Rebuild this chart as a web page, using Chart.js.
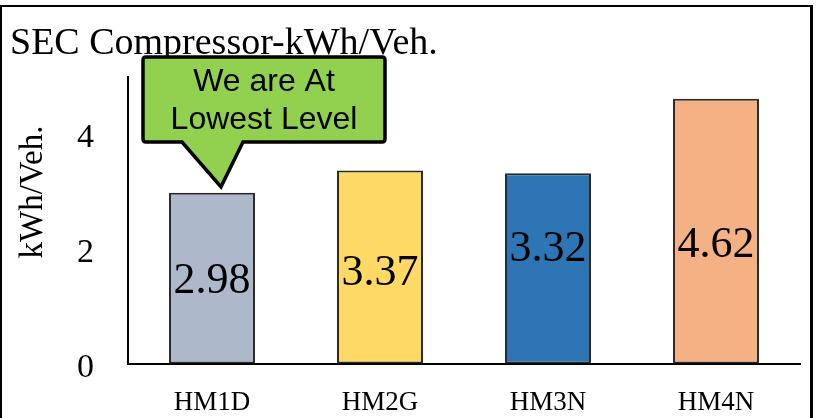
<!DOCTYPE html>
<html>
<head>
<meta charset="utf-8">
<title>SEC Compressor-kWh/Veh.</title>
<script src="https://cdn.jsdelivr.net/npm/chart.js@4"></script>
<style>
  html, body { margin: 0; padding: 0; background: #ffffff; }
  #wrap { width: 820px; height: 418px; }
</style>
</head>
<body>
<div id="wrap"><canvas id="chart" width="820" height="418"></canvas></div>
<script>
// Specific energy consumption of the compressor per vehicle, by plant
const plants = ['HM1D', 'HM2G', 'HM3N', 'HM4N'];
const secValues = [2.98, 3.37, 3.32, 4.62];
const yTicks = [0, 2, 4];
const barColors = ['#ADB9CA', '#FFD966', '#2E75B6', '#F4B183'];

const SERIF = '"Liberation Serif", "DejaVu Serif", serif';
const SANS = '"Liberation Sans", Arial, sans-serif';

// Outer frame around the whole figure
const framePlugin = {
  id: 'frame',
  beforeDraw(chart) {
    const ctx = chart.ctx;
    ctx.save();
    ctx.fillStyle = '#ffffff';
    ctx.fillRect(0, 0, chart.width, chart.height);
    ctx.strokeStyle = '#000000';
    ctx.lineWidth = 2;
    ctx.beginPath();
    ctx.moveTo(1, chart.height + 5);
    ctx.lineTo(1, 6);
    ctx.lineTo(811, 6);
    ctx.stroke();
    ctx.lineWidth = 3;
    ctx.beginPath();
    ctx.moveTo(811.5, 5);
    ctx.lineTo(811.5, chart.height + 5);
    ctx.stroke();
    ctx.restore();
  }
};

// Rotated axis caption on the left
const yCaptionPlugin = {
  id: 'yCaption',
  afterDraw(chart) {
    const ctx = chart.ctx;
    ctx.save();
    ctx.translate(33, 192);
    ctx.rotate(-Math.PI / 2);
    ctx.font = '33px ' + SERIF;
    ctx.fillStyle = '#000000';
    ctx.textAlign = 'center';
    ctx.textBaseline = 'middle';
    ctx.fillText('kWh/Veh.', 0, 0);
    ctx.restore();
  }
};

// Value printed inside each bar
const labelShift = [3, 6, -19, 14];
const valueLabelPlugin = {
  id: 'valueLabels',
  afterDatasetsDraw(chart) {
    const ctx = chart.ctx;
    const meta = chart.getDatasetMeta(0);
    ctx.save();
    ctx.font = '44px ' + SERIF;
    ctx.fillStyle = '#000000';
    ctx.textAlign = 'center';
    ctx.textBaseline = 'middle';
    meta.data.forEach((bar, i) => {
      const mid = (bar.y + bar.base) / 2 + labelShift[i];
      ctx.fillText(secValues[i].toFixed(2), bar.x, mid);
    });
    ctx.restore();
  }
};

// Green speech callout pointing at the first bar
const calloutPlugin = {
  id: 'callout',
  afterDraw(chart) {
    const bar = chart.getDatasetMeta(0).data[0];
    const ctx = chart.ctx;
    const left = bar.x - 69, right = bar.x + 173;
    const top = 57, bottom = 142, r = 3;
    const tipX = bar.x + 9, tipY = bar.y - 6;
    const baseL = bar.x - 30, baseR = bar.x + 31;
    ctx.save();
    ctx.beginPath();
    ctx.moveTo(left + r, top);
    ctx.lineTo(right - r, top);
    ctx.quadraticCurveTo(right, top, right, top + r);
    ctx.lineTo(right, bottom - r);
    ctx.quadraticCurveTo(right, bottom, right - r, bottom);
    ctx.lineTo(baseR, bottom);
    ctx.lineTo(tipX, tipY);
    ctx.lineTo(baseL, bottom);
    ctx.lineTo(left + r, bottom);
    ctx.quadraticCurveTo(left, bottom, left, bottom - r);
    ctx.lineTo(left, top + r);
    ctx.quadraticCurveTo(left, top, left + r, top);
    ctx.closePath();
    ctx.fillStyle = '#92D050';
    ctx.fill();
    ctx.lineWidth = 3.5;
    ctx.lineJoin = 'miter';
    ctx.strokeStyle = '#000000';
    ctx.stroke();
    ctx.fillStyle = '#000000';
    ctx.font = '32px ' + SANS;
    ctx.textAlign = 'center';
    ctx.textBaseline = 'middle';
    const cx = (left + right) / 2;
    ctx.fillText('We are At', cx, 82);
    ctx.fillText('Lowest Level', cx, 120);
    ctx.restore();
  }
};

new Chart(document.getElementById('chart'), {
  type: 'bar',
  data: {
    labels: plants,
    datasets: [{
      data: secValues,
      backgroundColor: barColors,
      borderColor: '#2b2b2b',
      borderWidth: 2,
      borderSkipped: false,
      barPercentage: 0.512,
      categoryPercentage: 1.0
    }]
  },
  options: {
    responsive: false,
    animation: false,
    devicePixelRatio: 1,
    layout: { padding: { left: 10, right: 20, top: 0, bottom: 0 } },
    plugins: {
      legend: { display: false },
      tooltip: { enabled: false },
      title: {
        display: true,
        text: 'SEC Compressor-kWh/Veh.',
        align: 'start',
        color: '#000000',
        font: { family: SERIF, size: 38, weight: 'normal', lineHeight: 1 },
        padding: { top: 25, bottom: 14 }
      }
    },
    scales: {
      x: {
        grid: { display: false, drawTicks: false },
        border: { display: true, color: '#000000', width: 2 },
        ticks: {
          color: '#000000',
          padding: 23,
          font: { family: SERIF, size: 27 }
        },
        afterFit(scale) { scale.height = 51; }
      },
      y: {
        min: 0,
        max: 5,
        grid: { display: false, drawTicks: false },
        border: { display: true, color: '#000000', width: 2 },
        ticks: {
          stepSize: 2,
          includeBounds: false,
          color: '#000000',
          padding: 34,
          labelOffset: 4,
          font: { family: SERIF, size: 34 },
          callback: (v) => yTicks.includes(v) ? String(v) : ''
        },
        afterFit(scale) { scale.width = 118; }
      }
    }
  },
  plugins: [framePlugin, valueLabelPlugin, calloutPlugin, yCaptionPlugin]
});
</script>
</body>
</html>
